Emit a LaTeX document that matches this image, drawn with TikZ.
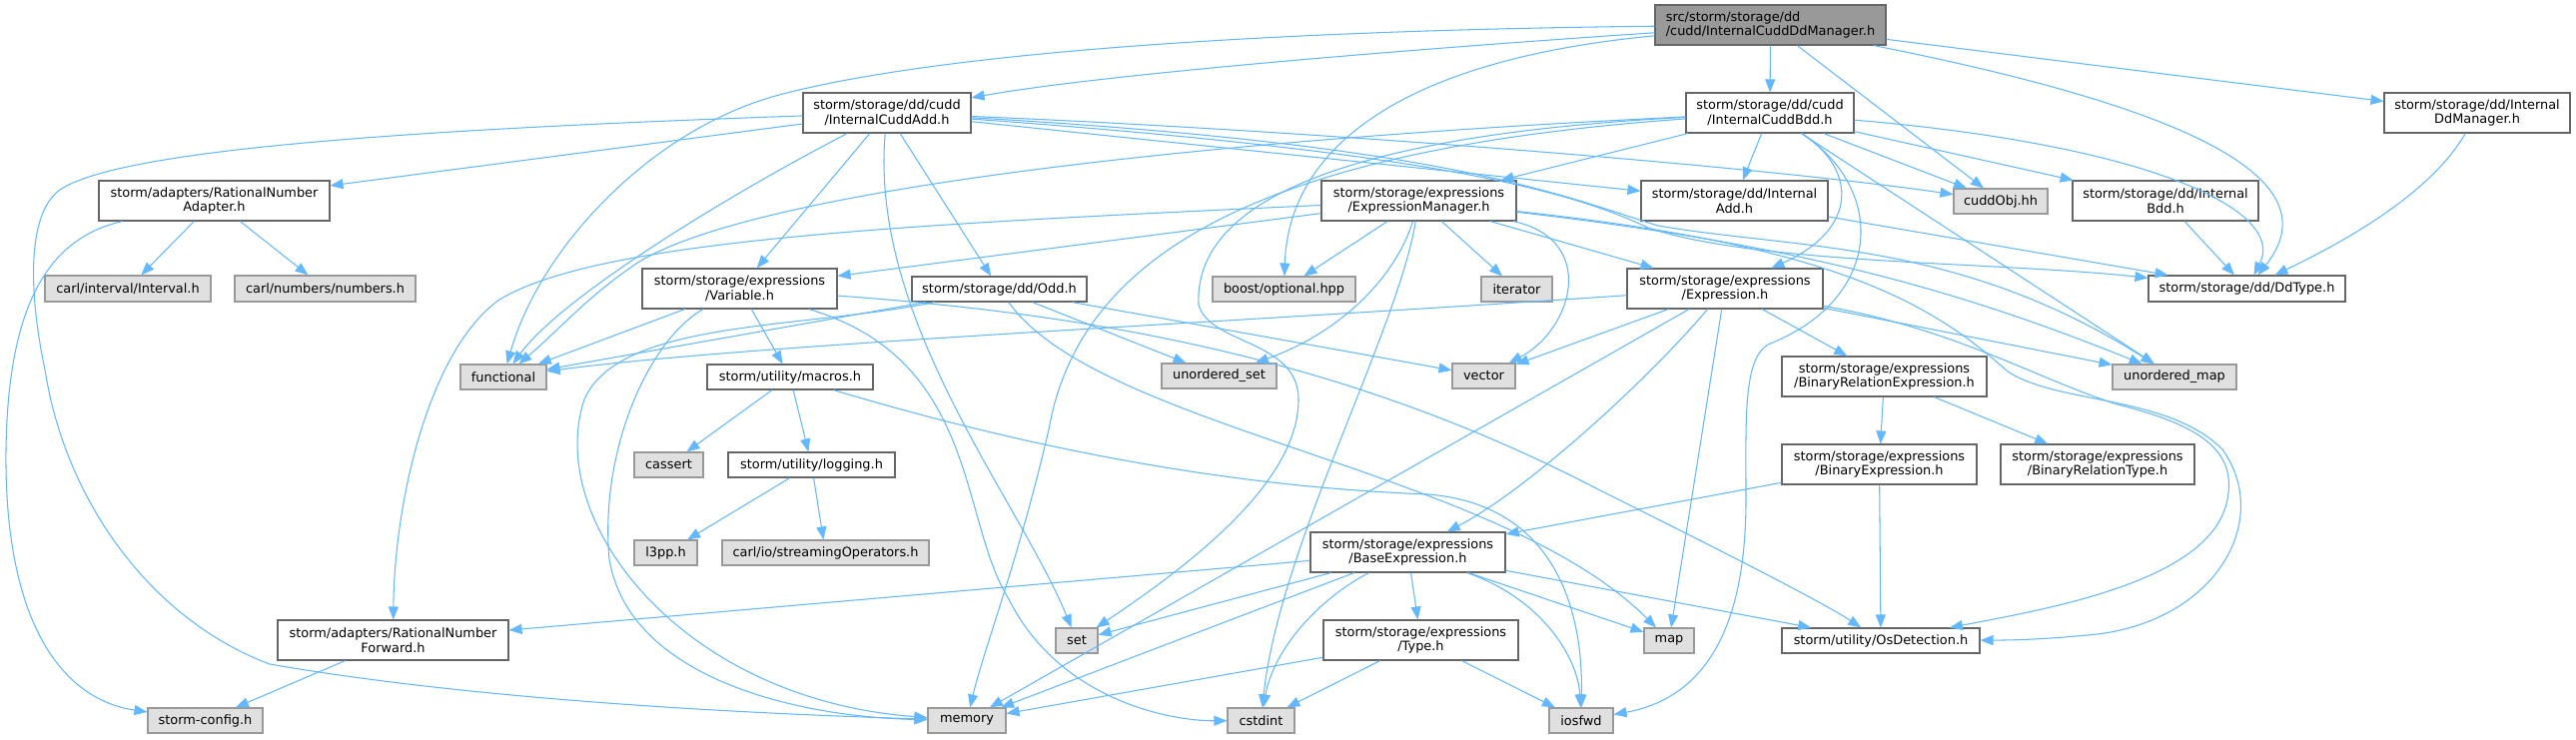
\documentclass[tikz,border=0pt]{standalone}
\usepackage{fontspec}
\setmainfont{DejaVu Sans}
\usetikzlibrary{arrows.meta}
\definecolor{edgec}{HTML}{63B8FF}
\definecolor{bordw}{HTML}{666666}
\definecolor{bordg}{HTML}{999999}
\definecolor{fillg}{HTML}{E0E0E0}
\definecolor{fillm}{HTML}{999999}
\begin{document}
\begin{tikzpicture}[x=1pt,y=-1pt,
  every node/.style={font=\fontsize{12.9}{14.7}\selectfont, inner sep=0pt, align=center},
  wbox/.style={draw=bordw, fill=white, line width=1.1pt},
  gbox/.style={draw=bordg, fill=fillg, line width=1.1pt},
  mbox/.style={draw=bordw, fill=fillm, line width=1.1pt, align=left},
  sz/.style 2 args={minimum width=#1pt, minimum height=#2pt},
  edg/.style={draw=edgec, line width=1.05pt, -{Triangle[length=13pt,width=10pt]}},
]
\fill[white] (0,0) rectangle (2579,740);
\useasboundingbox (0,0) rectangle (2579,740);

% nodes
\node[mbox, sz={231}{40}] (main) at (1772.5,25) {src/storm/storage/dd\\/cudd/InternalCuddDdManager.h};
\node[wbox, sz={168}{40}] (cuddadd) at (888,113) {storm/storage/dd/cudd\\/InternalCuddAdd.h};
\node[wbox, sz={168}{40}] (cuddbdd) at (1772,113) {storm/storage/dd/cudd\\/InternalCuddBdd.h};
\node[wbox, sz={186}{40}] (ddmgr) at (2480,113) {storm/storage/dd/Internal\\DdManager.h};
\node[wbox, sz={231}{40}] (rnadapter) at (214.5,201) {storm/adapters/RationalNumber\\Adapter.h};
\node[wbox, sz={195}{40}] (exprmgr) at (1420.5,201) {storm/storage/expressions\\/ExpressionManager.h};
\node[wbox, sz={187}{40}] (intadd) at (1736.5,201) {storm/storage/dd/Internal\\Add.h};
\node[gbox, sz={94}{25}] (cuddobj) at (2003,201.5) {cuddObj.hh};
\node[wbox, sz={186}{40}] (intbdd) at (2168,201) {storm/storage/dd/Internal\\Bdd.h};
\node[gbox, sz={166}{26}] (interval) at (128,289) {carl/interval/Interval.h};
\node[gbox, sz={181}{26}] (numbers) at (325.5,289) {carl/numbers/numbers.h};
\node[wbox, sz={195}{40}] (variable) at (740.5,289) {storm/storage/expressions\\/Variable.h};
\node[wbox, sz={175}{25}] (odd) at (1000.5,289.5) {storm/storage/dd/Odd.h};
\node[gbox, sz={143}{25}] (boost) at (1285.5,289.5) {boost/optional.hpp};
\node[gbox, sz={71}{25}] (iterator) at (1518.5,289.5) {iterator};
\node[wbox, sz={196}{40}] (expression) at (1727,289) {storm/storage/expressions\\/Expression.h};
\node[wbox, sz={197}{26}] (ddtype) at (2249.5,289) {storm/storage/dd/DdType.h};
\node[gbox, sz={86}{25}] (functional) at (504,377.5) {functional};
\node[wbox, sz={166}{25}] (macros) at (791,377.5) {storm/utility/macros.h};
\node[gbox, sz={115}{25}] (uset) at (1220.5,376.5) {unordered\_set};
\node[gbox, sz={63}{25}] (vector) at (1485.5,376.5) {vector};
\node[wbox, sz={205}{40}] (binrelexpr) at (1886.5,377) {storm/storage/expressions\\/BinaryRelationExpression.h};
\node[gbox, sz={124}{25}] (umap) at (2177,377.5) {unordered\_map};
\node[gbox, sz={69}{25}] (cassert) at (669.5,465.5) {cassert};
\node[wbox, sz={167}{25}] (logging) at (812.5,465.5) {storm/utility/logging.h};
\node[wbox, sz={195}{40}] (binexpr) at (1881.5,465) {storm/storage/expressions\\/BinaryExpression.h};
\node[wbox, sz={194}{40}] (binreltype) at (2100,465) {storm/storage/expressions\\/BinaryRelationType.h};
\node[gbox, sz={63}{25}] (l3pp) at (666.5,553.5) {l3pp.h};
\node[gbox, sz={207}{25}] (streaming) at (826.5,553.5) {carl/io/streamingOperators.h};
\node[wbox, sz={195}{40}] (baseexpr) at (1409.5,553) {storm/storage/expressions\\/BaseExpression.h};
\node[wbox, sz={231}{40}] (rnforward) at (393.5,641) {storm/adapters/RationalNumber\\Forward.h};
\node[gbox, sz={42}{25}] (set) at (1078,641.5) {set};
\node[wbox, sz={195}{40}] (typeh) at (1422.5,641) {storm/storage/expressions\\/Type.h};
\node[gbox, sz={50}{25}] (map) at (1671,641.5) {map};
\node[wbox, sz={198}{25}] (osdet) at (1883,641.5) {storm/utility/OsDetection.h};
\node[gbox, sz={115}{25}] (stormconfig) at (205.5,721.5) {storm-config.h};
\node[gbox, sz={78}{25}] (memory) at (968,721.5) {memory};
\node[gbox, sz={67}{25}] (cstdint) at (1262.5,721.5) {cstdint};
\node[gbox, sz={64}{25}] (iosfwd) at (1583,721.5) {iosfwd};

% main
\draw[edg] (main) .. controls (1400,50) and (1100,75) .. (cuddadd);
\draw[edg] (main) .. controls (1300,30) and (950,50) .. (780,95) .. controls (650,130) and (540,250) .. (functional);
\draw[edg] (main) .. controls (1400,60) and (1290,150) .. (boost);
\draw[edg] (main) -- (cuddbdd);
\draw[edg] (main) -- (cuddobj);
\draw[edg] (main) -- (ddmgr);
\draw[edg] (main) .. controls (2150,100) and (2345,170) .. (ddtype);

% InternalCuddAdd
\draw[edg] (cuddadd) -- (rnadapter);
\draw[edg] (cuddadd) .. controls (400,130) and (120,150) .. (60,190) .. controls (25,215) and (30,300) .. (45,370) .. controls (65,500) and (150,620) .. (270,665) .. controls (500,705) and (800,716) .. (memory);
\draw[edg] (cuddadd) .. controls (720,200) and (560,300) .. (functional);
\draw[edg] (cuddadd) -- (variable);
\draw[edg] (cuddadd) .. controls (870,320) and (1020,500) .. (set);
\draw[edg] (cuddadd) -- (odd);
\draw[edg] (cuddadd) .. controls (1300,130) and (1750,165) .. (cuddobj);
\draw[edg] (cuddadd) -- (intadd);
\draw[edg] (cuddadd) .. controls (1400,150) and (1560,185) .. (1650,228) .. controls (1760,265) and (2000,262) .. (ddtype);
\draw[edg] (cuddadd) .. controls (1450,145) and (1560,195) .. (1660,226) .. controls (1800,250) and (1960,240) .. (umap);

% InternalCuddBdd
\draw[edg] (cuddbdd) .. controls (1200,140) and (760,190) .. (640,262) .. controls (590,295) and (560,330) .. (functional);
\draw[edg] (cuddbdd) .. controls (1250,150) and (1080,260) .. (1050,430) .. controls (1020,560) and (985,650) .. (memory);
\draw[edg] (cuddbdd) .. controls (1350,135) and (1195,200) .. (1200,305) .. controls (1210,345) and (1300,340) .. (1300,400) .. controls (1300,480) and (1200,560) .. (set);
\draw[edg] (cuddbdd) -- (exprmgr);
\draw[edg] (cuddbdd) -- (intadd);
\draw[edg] (cuddbdd) .. controls (1860,170) and (1860,230) .. (expression);
\draw[edg] (cuddbdd) .. controls (1890,190) and (1885,300) .. (1770,345) .. controls (1745,360) and (1748,420) .. (1748,500) .. controls (1748,640) and (1700,700) .. (iosfwd);
\draw[edg] (cuddbdd) -- (umap);
\draw[edg] (cuddbdd) -- (cuddobj);
\draw[edg] (cuddbdd) -- (intbdd);
\draw[edg] (cuddbdd) .. controls (2150,145) and (2290,210) .. (ddtype);

\draw[edg] (ddmgr) .. controls (2430,200) and (2330,250) .. (ddtype);
\draw[edg] (intbdd) -- (ddtype);
\draw[edg] (intadd) -- (ddtype);

% adapters
\draw[edg] (rnadapter) -- (interval);
\draw[edg] (rnadapter) -- (numbers);
\draw[edg] (rnadapter) .. controls (40,240) and (8,320) .. (6,450) .. controls (4,620) and (60,700) .. (stormconfig);
\draw[edg] (rnforward) -- (stormconfig);

% ExpressionManager
\draw[edg] (exprmgr) -- (variable);
\draw[edg] (exprmgr) .. controls (900,225) and (600,240) .. (500,300) .. controls (430,350) and (395,500) .. (rnforward);
\draw[edg] (exprmgr) -- (boost);
\draw[edg] (exprmgr) .. controls (1400,270) and (1350,330) .. (uset);
\draw[edg] (exprmgr) .. controls (1400,330) and (1280,550) .. (cstdint);
\draw[edg] (exprmgr) -- (iterator);
\draw[edg] (exprmgr) -- (expression);
\draw[edg] (exprmgr) .. controls (1600,240) and (1575,330) .. (vector);
\draw[edg] (exprmgr) .. controls (1800,245) and (1960,290) .. (umap);
\draw[edg] (exprmgr) .. controls (1830,245) and (1930,300) .. (2010,372) .. controls (2060,405) and (2170,395) .. (2225,450) .. controls (2275,520) and (2220,620) .. (2100,635) .. controls (2050,640) and (2020,641) .. (osdet);

% Expression
\draw[edg] (expression) .. controls (1200,325) and (750,345) .. (functional);
\draw[edg] (expression) -- (vector);
\draw[edg] (expression) -- (memory);
\draw[edg] (expression) .. controls (1650,380) and (1530,490) .. (baseexpr);
\draw[edg] (expression) -- (map);
\draw[edg] (expression) -- (binrelexpr);
\draw[edg] (expression) -- (umap);
\draw[edg] (expression) .. controls (1960,330) and (2040,380) .. (2120,405) .. controls (2200,425) and (2240,450) .. (2230,500) .. controls (2215,580) and (2060,608) .. (osdet);

% Variable
\draw[edg] (variable) -- (functional);
\draw[edg] (variable) .. controls (650,340) and (600,450) .. (610,560) .. controls (630,680) and (800,718) .. (memory);
\draw[edg] (variable) -- (macros);
\draw[edg] (variable) .. controls (980,360) and (960,520) .. (1010,600) .. controls (1060,700) and (1170,722) .. (cstdint);
\draw[edg] (variable) .. controls (1100,315) and (1350,360) .. (1600,490) .. controls (1700,540) and (1820,600) .. (osdet);

% macros / logging
\draw[edg] (macros) -- (cassert);
\draw[edg] (macros) -- (logging);
\draw[edg] (macros) .. controls (1100,470) and (1300,490) .. (1430,495) .. controls (1550,505) and (1585,600) .. (iosfwd);
\draw[edg] (logging) -- (l3pp);
\draw[edg] (logging) -- (streaming);

% Odd
\draw[edg] (odd) -- (functional);
\draw[edg] (odd) .. controls (800,330) and (620,320) .. (585,400) .. controls (545,520) and (680,700) .. (memory);
\draw[edg] (odd) -- (uset);
\draw[edg] (odd) -- (vector);
\draw[edg] (odd) .. controls (1100,430) and (1500,470) .. (map);

% BaseExpression
\draw[edg] (baseexpr) -- (rnforward);
\draw[edg] (baseexpr) -- (set);
\draw[edg] (baseexpr) -- (memory);
\draw[edg] (baseexpr) .. controls (1320,600) and (1275,650) .. (cstdint);
\draw[edg] (baseexpr) -- (typeh);
\draw[edg] (baseexpr) -- (map);
\draw[edg] (baseexpr) .. controls (1545,600) and (1580,660) .. (iosfwd);
\draw[edg] (baseexpr) -- (osdet);

% Type
\draw[edg] (typeh) -- (memory);
\draw[edg] (typeh) -- (cstdint);
\draw[edg] (typeh) -- (iosfwd);

% Binary
\draw[edg] (binrelexpr) -- (binexpr);
\draw[edg] (binrelexpr) -- (binreltype);
\draw[edg] (binexpr) -- (baseexpr);
\draw[edg] (binexpr) -- (osdet);
\end{tikzpicture}
\end{document}
